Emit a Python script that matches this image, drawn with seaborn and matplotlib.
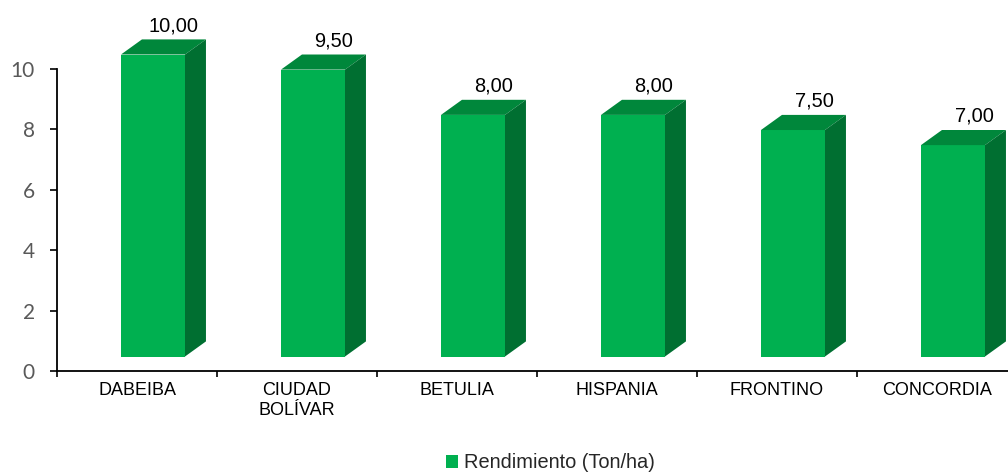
import matplotlib
matplotlib.use("Agg")
import matplotlib.pyplot as plt
from matplotlib.patches import Polygon, Patch
import seaborn as sns
import pandas as pd

categories = ["DABEIBA", "CIUDAD\nBOLÍVAR", "BETULIA", "HISPANIA", "FRONTINO", "CONCORDIA"]
values = [10.0, 9.5, 8.0, 8.0, 7.5, 7.0]
series_name = "Rendimiento (Ton/ha)"
yticks = [0, 2, 4, 6, 8, 10]

front_c = "#00B050"
top_c = "#00873B"
side_c = "#006F31"

sns.set_theme(style="white")
plt.rcParams["font.family"] = ["Liberation Sans", "DejaVu Sans"]

df = pd.DataFrame({"cat": categories, "val": values})

fig = plt.figure(figsize=(10.08, 4.74), dpi=100)
ax = fig.add_axes([57 / 1008, 103 / 474, 960 / 1008, 362.4 / 474])

sns.barplot(data=df, x="cat", y="val", color=front_c, saturation=1, width=0.40,
            ax=ax, linewidth=0, zorder=3)

# 3D-like extrusion derived from the seaborn bars
shift_x = 0.10
lift = 0.48
dx, dy = 0.131, 0.50
for p, v in zip(ax.patches, values):
    p.set_x(p.get_x() + shift_x)
    p.set_y(lift)
    p.set_clip_on(False)
    x0 = p.get_x()
    w = p.get_width()
    h = p.get_height()
    y0 = lift
    y1 = lift + h
    top = Polygon([(x0, y1), (x0 + w, y1), (x0 + w + dx, y1 + dy), (x0 + dx, y1 + dy)],
                  closed=True, facecolor=top_c, edgecolor="none", zorder=3, clip_on=False)
    side = Polygon([(x0 + w, y0), (x0 + w + dx, y0 + dy), (x0 + w + dx, y1 + dy), (x0 + w, y1)],
                   closed=True, facecolor=side_c, edgecolor="none", zorder=3, clip_on=False)
    ax.add_patch(top)
    ax.add_patch(side)
    ax.text(x0 + w / 2 + dx, v + 1.44, f"{v:.2f}".replace(".", ","),
            ha="center", va="center", fontsize=14.4, color="black", clip_on=False)

ax.set_xlim(-0.5, len(categories) - 0.5)
ax.set_ylim(0, 12)
ax.set_yticks(yticks)
ax.set_yticklabels([str(t) for t in yticks], family=["Lato", "DejaVu Sans"],
                   fontsize=15, color="#595959")
ax.set_xlabel("")
ax.set_ylabel("")
ax.set_xticks(range(len(categories)))
ax.set_xticklabels(categories, fontsize=13, color="black", linespacing=1.25)
ax.set_xticks([i - 0.5 for i in range(len(categories) + 1)], minor=True)
ax.tick_params(axis="x", which="major", length=0, pad=8)
ax.tick_params(axis="x", which="minor", length=4, width=1.2, color="black", direction="out")
ax.tick_params(axis="y", which="major", length=5, width=1.2, color="black", direction="out", pad=11)
ax.tick_params(axis="both", which="both", bottom=True, left=True)

for s in ["top", "right"]:
    ax.spines[s].set_visible(False)
for s in ["left", "bottom"]:
    ax.spines[s].set_visible(True)
    ax.spines[s].set_color("black")
    ax.spines[s].set_linewidth(1.3)
ax.spines["left"].set_bounds(0, 10)
ax.grid(False)

handle = Patch(facecolor=front_c, edgecolor="none", label=series_name)
fig.legend(handles=[handle], loc="center", bbox_to_anchor=(550 / 1008, 11 / 474),
           frameon=False, fontsize=14.4, handlelength=0.6, handleheight=0.6,
           handletextpad=0.3, borderpad=0, borderaxespad=0)

fig.savefig("out.png", dpi=100)
